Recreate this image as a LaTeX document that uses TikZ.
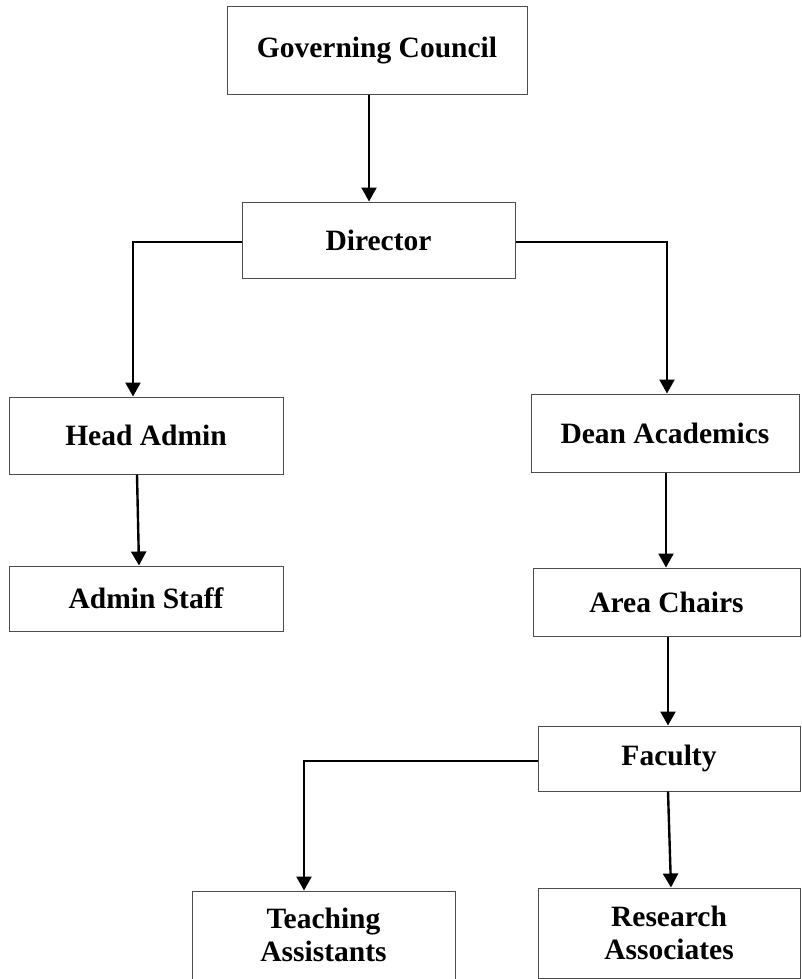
\documentclass[tikz,border=0pt]{standalone}
\usepackage{fontspec}
\setmainfont{Liberation Serif}
\usetikzlibrary{arrows.meta,calc}
\begin{document}
\begin{tikzpicture}[x=1pt,y=-1pt,
  box/.style={draw=black!70, line width=1pt, fill=white, inner sep=0pt, align=center,
    font=\fontsize{29.5}{33}\selectfont\bfseries},
  arr/.style={line width=2.4pt, -{Triangle[length=14pt,width=15pt]}}]
\useasboundingbox (0,0) rectangle (801,979);
\node[box, minimum width=300pt, minimum height=88pt] (GC) at (377,51) {Governing Council};
\node[box, minimum width=273pt, minimum height=76pt] (Dir) at (378.5,240) {Director};
\node[box, minimum width=274pt, minimum height=77pt] (HA) at (146,435.5) {Head Admin};
\node[box, minimum width=274pt, minimum height=65pt] (AS) at (146,598.5) {Admin Staff};
\node[box, minimum width=268pt, minimum height=78pt] (DA) at (665,433) {Dean Academics};
\node[box, minimum width=267pt, minimum height=68pt] (AC) at (666.5,602) {Area Chairs};
\node[box, minimum width=262pt, minimum height=65pt] (Fac) at (669,758.5) {Faculty};
\node[box, minimum width=263pt, minimum height=88pt] (TA) at (323.5,935) {Teaching\\Assistants};
\node[box, minimum width=262pt, minimum height=90pt] (RA) at (669,933) {Research\\Associates};
\draw[arr] ([xshift=-8pt]GC.south) -- ([xshift=-8pt]GC.south |- Dir.north);
\draw[arr] ([yshift=-2pt]Dir.west) -| ([xshift=-13pt]HA.north);
\draw[arr] ([yshift=-2pt]Dir.east) -| ([xshift=2pt]DA.north);
\draw[arr] ([xshift=-9pt]HA.south) -- ([xshift=-7pt]AS.north);
\draw[arr] ([xshift=1pt]DA.south) -- ([xshift=-0.5pt]AC.north);
\draw[arr] ([xshift=1.5pt]AC.south) -- ([xshift=-1pt]Fac.north);
\draw[arr] ([yshift=-2.5pt]Fac.west) -| ([xshift=-19.5pt]TA.north);
\draw[arr] ([xshift=-1pt]Fac.south) -- ([xshift=2pt]RA.north);
\end{tikzpicture}
\end{document}
